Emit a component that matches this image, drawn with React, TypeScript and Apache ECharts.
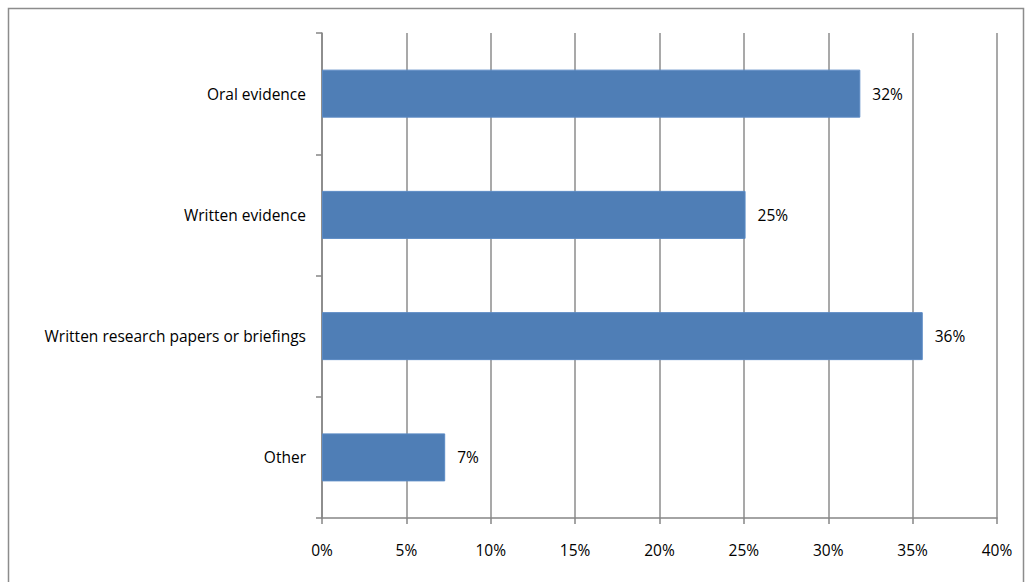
import React, { useEffect, useRef } from "react";
import * as echarts from "echarts";

const categories = ["Oral evidence", "Written evidence", "Written research papers or briefings", "Other"];
const values = [0.319, 0.251, 0.356, 0.073];
const tickMin = 0;
const tickMax = 0.4;
const tickStep = 0.05;

export default function App() {
  const ref = useRef<HTMLDivElement>(null);
  useEffect(() => {
    document.body.style.margin = "0";
    const chart = echarts.init(ref.current!, null, { renderer: "svg" });
    const font = "'Open Sans', sans-serif";
    const fs = 15.5;
    chart.setOption({
      animation: false,
      backgroundColor: "#ffffff",
      graphic: [
        {
          type: "rect",
          shape: { x: 8.5, y: 8.5, width: 1015, height: 590 },
          style: { fill: "none", stroke: "#8c8c8c", lineWidth: 1.5 },
          silent: true,
        },
      ],
      grid: { left: 322, right: 35, top: 33, bottom: 64, containLabel: false },
      xAxis: {
        type: "value",
        min: tickMin,
        max: tickMax,
        interval: tickStep,
        axisLine: { show: true, lineStyle: { color: "#868686", width: 1.5 } },
        axisTick: { show: true, length: 6, lineStyle: { color: "#868686", width: 1.5 } },
        splitLine: { show: true, lineStyle: { color: "#8c8c8c", width: 1.5 } },
        axisLabel: {
          margin: 24,
          color: "#000",
          fontFamily: font,
          fontSize: fs,
          formatter: (v: number) => Math.round(v * 100) + "%",
        },
      },
      yAxis: {
        type: "category",
        data: categories,
        inverse: true,
        axisLine: { show: true, lineStyle: { color: "#868686", width: 1.5 } },
        axisTick: { show: true, length: 6, inside: false, lineStyle: { color: "#868686", width: 1.5 } },
        axisLabel: { margin: 16, color: "#000", fontFamily: font, fontSize: fs, padding: [2, 0, 0, 0] },
        splitLine: { show: false },
      },
      series: [
        {
          type: "bar",
          data: values,
          barWidth: 48,
          itemStyle: { color: "#4f7eb6", borderColor: "#5b8ac4", borderWidth: 1 },
          label: {
            show: true,
            position: "right",
            distance: 12,
            color: "#000",
            fontFamily: font,
            fontSize: fs,
            formatter: (p: any) => Math.round(p.value * 100) + "%",
          },
        },
      ],
    });
    return () => chart.dispose();
  }, []);
  return <div ref={ref} style={{ position: "absolute", left: 0, top: 0, width: 1032, height: 582 }} />;
}
